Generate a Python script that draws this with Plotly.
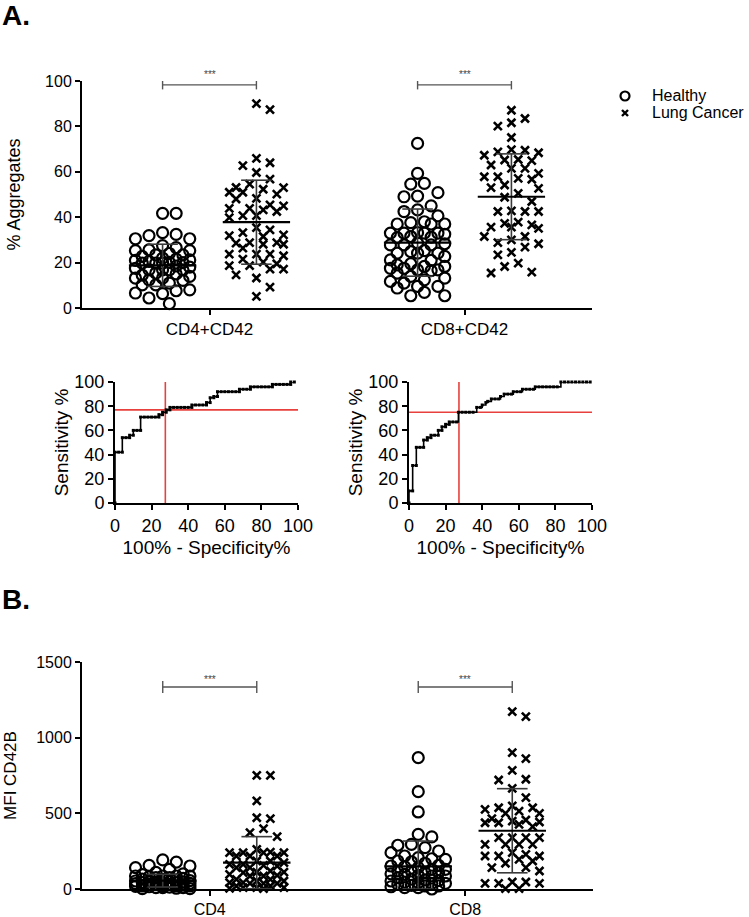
import plotly.graph_objects as go

# ---------------- DATA ----------------
groups = ["Healthy", "Lung Cancer"]
cats_a = ["CD4+CD42", "CD8+CD42"]
cats_b = ["CD4", "CD8"]

# Panel A: % Aggregates
a_cd4_healthy = [41.7, 41.7, 33.2, 31.9, 30.5, 30.5, 32.4, 25.3, 27.5, 26.6, 25.3, 25.6, 22.7, 23.4,
                 23.4, 21.2, 19.8, 19.8, 20.5, 20.1, 19.8, 16.8, 16.8, 16.8, 16.8, 15.4, 13.2, 13.9,
                 12.4, 13.2, 12.2, 10.2, 10.2, 11.0, 7.6, 6.3, 8.0, 4.4, 6.6, 1.9, 21.5, 22.0, 18.0,
                 18.5, 17.5, 24.0, 15.0, 14.5, 20.0, 21.0]
a_cd4_cancer = [90.0, 87.4, 65.9, 62.7, 64.0, 59.7, 56.8, 54.6, 53.0, 51.0, 52.3, 50.2, 53.1, 51.0,
                45.4, 43.2, 43.9, 48.0, 43.9, 48.3, 45.0, 42.5, 40.7, 39.8, 40.7, 35.4, 33.2, 31.5,
                34.4, 31.9, 32.2, 28.8, 28.6, 28.1, 28.1, 28.8, 23.7, 23.0, 26.4, 23.7, 23.7, 19.5,
                17.1, 18.7, 20.2, 18.7, 21.5, 17.1, 14.6, 13.2, 9.2, 5.1]
a_cd8_healthy = [72.5, 59.3, 54.9, 54.6, 50.8, 49.0, 49.3, 45.0, 42.5, 40.6, 43.2, 37.0, 37.0, 37.0,
                 38.0, 37.6, 31.5, 33.0, 33.0, 32.5, 31.0, 33.0, 33.2, 33.0, 31.2, 28.6, 28.3, 27.8,
                 27.8, 27.8, 24.2, 25.3, 24.2, 24.2, 24.8, 22.7, 19.5, 21.0, 19.0, 18.3, 21.2, 16.8,
                 17.5, 16.8, 17.5, 18.3, 16.5, 15.4, 13.2, 12.4, 13.9, 9.5, 8.8, 11.0, 11.7, 9.5,
                 6.9, 5.4, 5.4]
a_cd8_cancer = [87.1, 83.5, 81.6, 80.1, 75.1, 69.8, 67.3, 68.8, 68.4, 69.5, 65.4, 61.5, 63.0, 65.2,
                64.9, 61.5, 59.3, 56.7, 54.2, 57.8, 52.7, 57.1, 57.8, 53.0, 50.5, 48.8, 46.9, 42.5,
                42.5, 42.5, 42.8, 35.6, 37.3, 35.1, 36.6, 37.8, 35.6, 31.5, 30.0, 31.5, 28.3, 24.5,
                28.8, 26.8, 23.4, 18.3, 19.8, 15.4, 15.8]
a_means = [18.8, 37.8, 28.8, 49.0]      # H-CD4, C-CD4, H-CD8, C-CD8
a_sds = [9.3, 18.5, 14.8, 18.9]

# Panel B: MFI CD42B
b_cd4_healthy = [192, 178, 156, 141, 130, 152, 86, 64, 82, 86, 75, 86, 75, 86, 42, 31, 53, 42, 46,
                 37, 42, 46, 20, 9, 9, 20, 2, 15, 2, 20, 9, 20, 60, 70, 55, 50, 35, 25, 28, 95, 100,
                 110, 65, 48, 30, 12, 5, 18]
b_cd4_cancer = [751, 751, 582, 465, 471, 372, 399, 346, 240, 218, 240, 218, 240, 218, 244, 240, 262,
                163, 174, 141, 163, 185, 141, 152, 185, 156, 112, 97, 119, 86, 108, 86, 112, 90, 42,
                64, 37, 53, 42, 64, 37, 53, 37, 9, 4, 20, 2, 9, 9, 20]
b_cd8_healthy = [868, 643, 509, 361, 344, 295, 289, 273, 251, 240, 218, 207, 196, 185, 152, 156, 141,
                 148, 130, 108, 119, 108, 86, 75, 86, 90, 97, 31, 20, 42, 24, 53, 20, 37, 15, 37, 0,
                 9, 9, 170, 130, 120, 100, 65, 60, 55, 45, 180, 200]
b_cd8_cancer = [1172, 1139, 901, 861, 784, 725, 720, 665, 604, 549, 515, 537, 500, 526, 537, 500, 456,
                449, 438, 412, 427, 465, 438, 443, 339, 339, 339, 339, 295, 295, 295, 295, 240, 218,
                196, 218, 185, 218, 229, 170, 141, 119, 141, 46, 37, 37, 46, 2, 2, 37]
b_means = [55, 174, 150, 385]
b_sds = [42, 172, 167, 278]

sig_label = "***"

# ROC curves (100% - specificity %, sensitivity %)
roc_cd4_fpr = [0, 0, 2, 4, 4, 6, 8, 8, 10, 10, 12, 14, 14, 16, 18, 20, 22, 24, 24, 26, 26, 28, 28, 30,
               30, 32, 34, 36, 38, 40, 42, 42, 44, 46, 48, 50, 50, 52, 52, 54, 54, 56, 56, 58, 60, 62,
               64, 66, 68, 68, 70, 72, 74, 74, 76, 78, 80, 82, 84, 86, 86, 88, 90, 92, 94, 96, 96, 98]
roc_cd4_tpr = [0, 42, 42, 42, 54, 54, 54, 56, 56, 60, 60, 60, 71, 71, 71, 71, 71, 71, 73, 73, 75, 75,
               77, 77, 79, 79, 79, 79, 79, 79, 79, 81, 81, 81, 81, 81, 83, 83, 87, 87, 88, 88, 92, 92,
               92, 92, 92, 92, 92, 94, 94, 94, 94, 96, 96, 96, 96, 96, 96, 96, 98, 98, 98, 98, 98, 98,
               100, 100]
roc_cd8_fpr = [0, 0, 2, 2, 4, 4, 6, 8, 8, 10, 10, 12, 12, 14, 16, 16, 18, 18, 20, 20, 22, 22, 24, 26,
               27, 29, 31, 33, 35, 37, 39, 40, 42, 43, 45, 47, 49, 50, 52, 54, 56, 57, 59, 61, 62, 64,
               66, 68, 69, 71, 73, 75, 77, 79, 81, 83, 85, 87, 89, 91, 93, 95, 97, 99]
roc_cd8_tpr = [0, 10, 10, 31, 31, 46, 46, 46, 52, 52, 54, 54, 56, 56, 56, 60, 60, 63, 63, 65, 65, 67,
               67, 67, 75, 75, 75, 75, 75, 79, 79, 81, 83, 84, 86, 86, 86, 88, 90, 90, 90, 92, 92, 92,
               94, 94, 94, 94, 96, 96, 96, 96, 96, 96, 96, 100, 100, 100, 100, 100, 100, 100, 100, 100]
roc_cd4_cut = [27.5, 77]   # (100%-specificity, sensitivity) at cut-off
roc_cd8_cut = [27.3, 75]

# ---------------- HELPERS ----------------
FONT = "Arial, Liberation Sans, Helvetica, sans-serif"
W, H = 749, 917
X_PX_PER_UNIT = 255.5   # x range [0.5, 2.5] over 511 px
GROUP_OFFSET = 0.184


def swarm(values, y_px_per_unit, d_px=12.0, step_px=6.8, max_k=4):
    """Deterministic column-scatter layout: returns x offsets (data units)."""
    cands = [0.0]
    for k in range(1, max_k + 1):
        cands += [k * step_px, -k * step_px]
    placed = []
    offs = [0.0] * len(values)
    order = sorted(range(len(values)), key=lambda i: -values[i])
    for i in order:
        y = values[i] * y_px_per_unit
        best, best_md, best_c = None, -1, 0.0
        for c in cands:
            md = min([((c - px) ** 2 + (y - py) ** 2) ** 0.5 for px, py in placed] or [1e9])
            if md >= d_px:
                best = c
                break
            if md > best_md:
                best_md, best_c = md, c
        if best is None:
            best = best_c
        placed.append((best, y))
        offs[i] = best / X_PX_PER_UNIT
    return offs


fig = go.Figure()
annotations = []

circle = dict(symbol="circle-open", size=11, color="black", line=dict(color="black", width=2.2))
cross = dict(symbol="x-thin", size=8, color="black", line=dict(color="black", width=2.6))


def add_column_panel(xa, ya, data_lists, means, sds, y_px_per_unit, y_max, bracket_y, tick_h, star_y):
    centers = [1 - GROUP_OFFSET, 1 + GROUP_OFFSET, 2 - GROUP_OFFSET, 2 + GROUP_OFFSET]
    for gi, vals in enumerate(data_lists):
        offs = swarm(vals, y_px_per_unit)
        xs = [centers[gi] + o for o in offs]
        healthy = gi % 2 == 0
        fig.add_trace(go.Scatter(
            x=xs, y=vals, mode="markers", xaxis=xa, yaxis=ya,
            marker=circle if healthy else cross,
            name=groups[0] if healthy else groups[1],
            showlegend=False, cliponaxis=False, hoverinfo="y"))
    # mean and SD
    for gi, (m, s) in enumerate(zip(means, sds)):
        c = centers[gi]
        lo = max(m - s, 0)
        fig.add_trace(go.Scatter(
            x=[c, c, None, c - 0.06, c + 0.06, None, c - 0.06, c + 0.06],
            y=[lo, m + s, None, m + s, m + s, None, lo, lo],
            mode="lines", line=dict(color="#3a3a3a", width=1.6), xaxis=xa, yaxis=ya,
            showlegend=False, hoverinfo="skip", cliponaxis=False))
        fig.add_trace(go.Scatter(
            x=[c - 0.132, c + 0.132], y=[m, m], mode="lines",
            line=dict(color="black", width=2.2), xaxis=xa, yaxis=ya,
            showlegend=False, hoverinfo="skip", cliponaxis=False))
    # significance brackets
    for k in range(2):
        l, r = centers[2 * k], centers[2 * k + 1]
        fig.add_trace(go.Scatter(
            x=[l, r, None, l, l, None, r, r],
            y=[bracket_y, bracket_y, None, bracket_y - tick_h, bracket_y + tick_h, None,
               bracket_y - tick_h, bracket_y + tick_h],
            mode="lines", line=dict(color="#555555", width=1.4), xaxis=xa, yaxis=ya,
            showlegend=False, hoverinfo="skip", cliponaxis=False))
        annotations.append(dict(
            text=sig_label, x=(l + r) / 2, y=star_y / y_max, xref=xa, yref=ya + " domain",
            xanchor="center", yanchor="middle", showarrow=False,
            font=dict(family=FONT, size=10, color="#444444")))


add_column_panel("x", "y", [a_cd4_healthy, a_cd4_cancer, a_cd8_healthy, a_cd8_cancer],
                 a_means, a_sds, 2.27, 100, 98.3, 2.0, 102.8)
add_column_panel("x4", "y4", [b_cd4_healthy, b_cd4_cancer, b_cd8_healthy, b_cd8_cancer],
                 b_means, b_sds, 0.1513, 1500, 1335, 40, 1385)


def add_roc(xa, ya, fpr, tpr, cut):
    fig.add_trace(go.Scatter(
        x=[cut[0], cut[0], None, 0, 100], y=[0, 100, None, cut[1], cut[1]], mode="lines",
        line=dict(color="#e8403c", width=1.6), xaxis=xa, yaxis=ya, showlegend=False,
        hoverinfo="skip", cliponaxis=False))
    fig.add_trace(go.Scatter(
        x=fpr, y=tpr, mode="lines+markers", line=dict(color="black", width=1.6, shape="hv"),
        marker=dict(symbol="square", size=3, color="black"), xaxis=xa, yaxis=ya,
        showlegend=False, cliponaxis=False))


add_roc("x2", "y2", roc_cd4_fpr, roc_cd4_tpr, roc_cd4_cut)
add_roc("x3", "y3", roc_cd8_fpr, roc_cd8_tpr, roc_cd8_cut)

# Legend drawn on an invisible pixel-space overlay axis
fig.add_trace(go.Scatter(x=[625], y=[96], mode="markers", xaxis="x5", yaxis="y5",
                         marker=dict(symbol="circle-open", size=9, color="black",
                                     line=dict(color="black", width=2.2)),
                         showlegend=False, hoverinfo="skip", cliponaxis=False))
fig.add_trace(go.Scatter(x=[625], y=[113], mode="markers", xaxis="x5", yaxis="y5",
                         marker=dict(symbol="x-thin", size=6, color="black",
                                     line=dict(color="black", width=2.4)),
                         showlegend=False, hoverinfo="skip", cliponaxis=False))
for lbl, yy in zip(groups, [96, 113]):
    annotations.append(dict(text=lbl, x=650 / W, y=1 - yy / H, xref="paper", yref="paper",
                            xanchor="left", yanchor="middle", showarrow=False,
                            font=dict(family=FONT, size=16, color="black")))

annotations += [
    dict(text="<b>A.</b>", x=0.0, y=1 - 16 / H, xref="paper", yref="paper", xanchor="left",
         yanchor="middle", showarrow=False, font=dict(family=FONT, size=28, color="black")),
    dict(text="<b>B.</b>", x=0.0, y=1 - 599 / H, xref="paper", yref="paper", xanchor="left",
         yanchor="middle", showarrow=False, font=dict(family=FONT, size=28, color="black")),
]


def px_dom_x(a, b):
    return [a / W, b / W]


def px_dom_y(top, bottom):
    return [1 - bottom / H, 1 - top / H]


axis_common = dict(showline=True, linecolor="black", linewidth=2, ticks="outside", tickwidth=2,
                   ticklen=5, tickcolor="black", showgrid=False, zeroline=False, mirror=False,
                   automargin=False, tickfont=dict(family=FONT, size=16, color="black"))

fig.update_layout(
    width=W, height=H, margin=dict(l=0, r=0, t=0, b=0, autoexpand=False),
    paper_bgcolor="white", plot_bgcolor="rgba(0,0,0,0)", showlegend=False,
    font=dict(family=FONT, color="black"),
    xaxis=dict(axis_common, domain=px_dom_x(82, 592), range=[0.5, 2.5], tickvals=[1, 2],
               ticktext=cats_a, tickfont=dict(family=FONT, size=17, color="black"), anchor="y"),
    yaxis=dict(axis_common, domain=px_dom_y(81, 308), range=[0, 100], tickvals=[0, 20, 40, 60, 80, 100],
               title=dict(text="% Aggregates", font=dict(family=FONT, size=18), standoff=20),
               anchor="x"),
    xaxis2=dict(axis_common, domain=px_dom_x(115, 298), range=[0, 100], dtick=20, anchor="y2",
                tickfont=dict(family=FONT, size=18, color="black"),
                title=dict(text="100% - Specificity%", font=dict(family=FONT, size=19), standoff=6)),
    yaxis2=dict(axis_common, domain=px_dom_y(382, 503), range=[0, 100], dtick=20, anchor="x2",
                tickfont=dict(family=FONT, size=18, color="black"),
                title=dict(text="Sensitivity %", font=dict(family=FONT, size=19), standoff=1)),
    xaxis3=dict(axis_common, domain=px_dom_x(409, 592), range=[0, 100], dtick=20, anchor="y3",
                tickfont=dict(family=FONT, size=18, color="black"),
                title=dict(text="100% - Specificity%", font=dict(family=FONT, size=19), standoff=6)),
    yaxis3=dict(axis_common, domain=px_dom_y(382, 503), range=[0, 100], dtick=20, anchor="x3",
                tickfont=dict(family=FONT, size=18, color="black"),
                title=dict(text="Sensitivity %", font=dict(family=FONT, size=19), standoff=1)),
    xaxis4=dict(axis_common, domain=px_dom_x(82, 593), range=[0.5, 2.5], tickvals=[1, 2],
                ticktext=cats_b, tickfont=dict(family=FONT, size=16, color="black"), anchor="y4"),
    yaxis4=dict(axis_common, domain=px_dom_y(662, 889), range=[0, 1500], tickvals=[0, 500, 1000, 1500],
                title=dict(text="MFI CD42B", font=dict(family=FONT, size=17), standoff=15),
                anchor="x4"),
    xaxis5=dict(domain=[0, 1], range=[0, W], visible=False, fixedrange=True, anchor="y5"),
    yaxis5=dict(domain=[0, 1], range=[H, 0], visible=False, fixedrange=True, anchor="x5"),
    annotations=annotations,
)

fig.write_html("out.html", config={"displayModeBar": False},
               post_script="document.body.style.margin='0';")
